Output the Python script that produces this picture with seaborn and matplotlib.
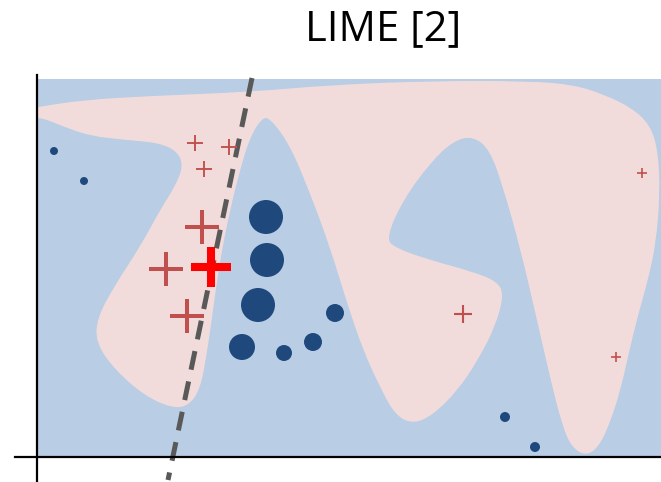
import numpy as np
import matplotlib
matplotlib.use("Agg")
import matplotlib.pyplot as plt
from matplotlib.path import Path
from matplotlib.patches import PathPatch, Rectangle
import seaborn as sns

# coordinates (x to the right, y downwards)
# blue samples: centre and radius (sample weight)
dot_x = [54, 84, 266, 267, 258, 242, 284, 313, 335, 505, 535]
dot_y = [151, 181, 217, 260, 305, 347, 353, 342, 313, 417, 447]
dot_r = [4, 4, 17, 17, 17, 13, 8, 9, 9, 5, 5]

# red samples: centre and half arm length (sample weight)
plus_x = [195, 229, 204, 202, 166, 187, 642, 463, 616]
plus_y = [143, 147, 169, 227, 269, 316, 173, 314, 357]
plus_r = [8, 8, 8, 17, 17, 17, 5, 9, 5]

# instance being explained
inst_x = [211]
inst_y = [267]

# local linear explanation (dashed line ends)
expl_x = [252, 168]
expl_y = [78, 480]

# control points of the model's pink decision region
region_x = [20, 38, 83, 150, 250, 330, 430, 530, 575, 605, 632, 650, 658,
            660, 656, 648, 638, 629, 621, 611, 600, 587, 572, 562, 550, 537,
            520, 503, 490, 473, 453, 430, 403, 386, 395, 430, 470, 497, 504,
            495, 478, 458, 433, 413, 395, 380, 363, 347, 330, 310, 290, 270,
            262, 250, 240, 230, 220, 213, 207, 200, 188, 172, 145, 115, 96,
            97, 115, 140, 160, 176, 183, 178, 160, 127, 90, 62, 40, 20]
region_y = [110, 107, 100, 96, 92, 85, 81, 81, 85, 95, 108, 125, 150, 193,
            243, 280, 315, 352, 388, 420, 445, 456, 448, 425, 377, 320, 247,
            187, 150, 136, 141, 163, 200, 238, 248, 260, 271, 281, 295, 327,
            360, 390, 415, 424, 415, 387, 350, 303, 247, 193, 145, 118, 118,
            137, 170, 210, 260, 310, 353, 390, 406, 408, 396, 370, 343, 318,
            285, 247, 210, 185, 166, 152, 143, 140, 136, 126, 117, 118]

# feature space frame
frame_x = [37, 661]
frame_y = [79, 457]

blue_bg = "#b9cde5"
pink_bg = "#f2dcdb"
navy = "#1f497d"
brick = "#c0504d"

sns.set_style("white")
fig = plt.figure(figsize=(6.61, 4.82), dpi=100)
ax = fig.add_axes([15 / 661, 0, 646 / 661, 407 / 482])

frame = Rectangle((frame_x[0], frame_y[0]), frame_x[1] - frame_x[0],
                  frame_y[1] - frame_y[0], color=blue_bg, lw=0, zorder=0)
ax.add_patch(frame)

# smooth closed outline: quadratic curves through the mid points
pts = np.column_stack([region_x, region_y]).astype(float)
mids = (pts + np.roll(pts, -1, axis=0)) / 2
verts = [mids[-1]]
codes = [Path.MOVETO]
for p, m in zip(pts, mids):
    verts += [p, m]
    codes += [Path.CURVE3, Path.CURVE3]
region = PathPatch(Path(verts, codes), color=pink_bg, lw=0, zorder=0.5)
ax.add_patch(region)
region.set_clip_path(frame)

ax.plot(expl_x, expl_y, color="#595959", lw=3.6, ls=(0, (3.8, 2.4)),
        dash_capstyle="butt", zorder=3)

px = 0.72  # points per pixel at 100 dpi
sns.scatterplot(x=dot_x, y=dot_y, s=[(2 * r * px) ** 2 for r in dot_r],
                color=navy, linewidth=0, ax=ax, zorder=4)
sns.scatterplot(x=plus_x, y=plus_y, marker="+",
                s=[(2 * r * px) ** 2 for r in plus_r],
                linewidth=[max(1.2, r * 0.17) for r in plus_r],
                color=brick, ax=ax, zorder=4)
sns.scatterplot(x=inst_x, y=inst_y, marker="+", s=(40 * px) ** 2,
                linewidth=5.8, color="#ff0000", ax=ax, zorder=5)

ax.set_xlim(15, 661)
ax.set_ylim(482, 75)
ax.set_facecolor("none")
for side in ["top", "right"]:
    ax.spines[side].set_visible(False)
ax.spines["left"].set_position(("data", frame_x[0]))
ax.spines["bottom"].set_position(("data", frame_y[1]))
for side in ["left", "bottom"]:
    ax.spines[side].set_color("black")
    ax.spines[side].set_linewidth(1.6)
    ax.spines[side].set_zorder(6)
ax.set_xticks([])
ax.set_yticks([])

fig.text(383 / 661, 1 - 40 / 482, "LIME [2]", ha="center", va="baseline",
         fontsize=30, color="black", family=["Open Sans", "DejaVu Sans"])

fig.savefig("out.png", dpi=100)
